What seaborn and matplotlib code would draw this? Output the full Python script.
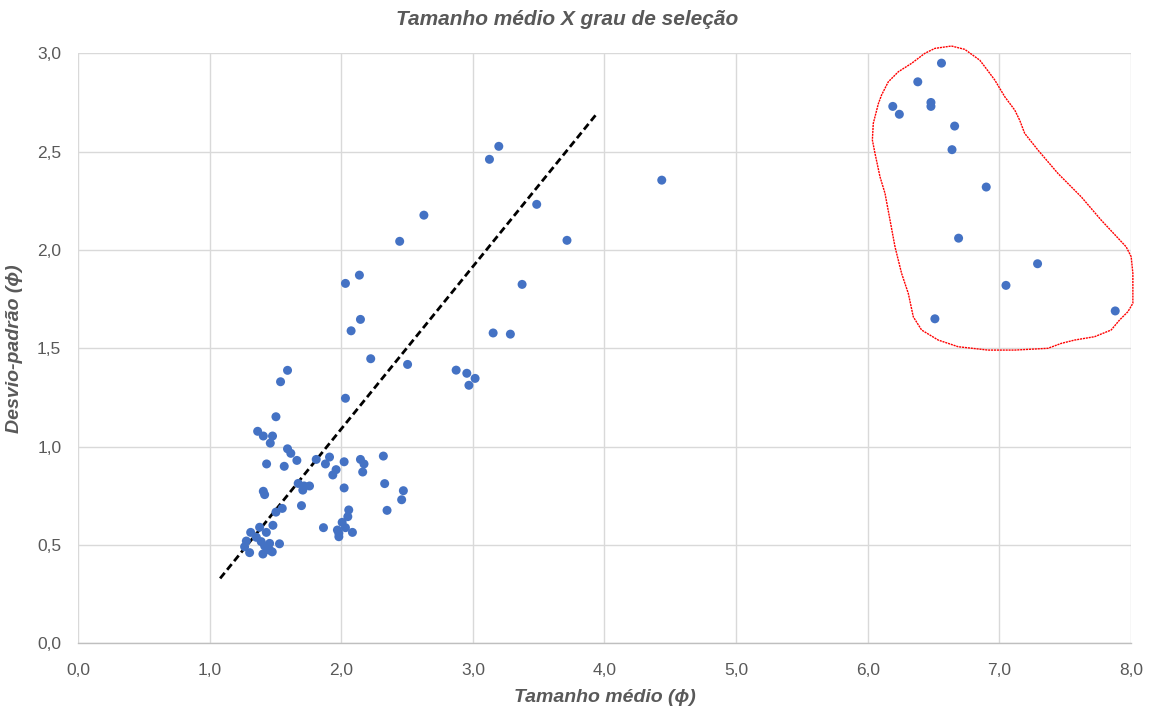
import matplotlib
matplotlib.use("Agg")
import matplotlib.pyplot as plt
from matplotlib.ticker import FuncFormatter, MultipleLocator
import pandas as pd
import seaborn as sns

# Mean grain size (phi) and sorting / standard deviation (phi) per sample
tamanho_medio = [
    # coarse/medium group
    3.197, 3.126, 4.435, 3.485, 3.715, 3.374, 3.154, 3.285, 2.873, 2.954, 3.017, 2.970,
    2.628, 2.444, 2.138, 2.032, 2.146, 2.075, 2.224, 2.504, 2.032,
    1.592, 1.539, 1.504, 1.365, 1.408, 1.478, 1.461, 1.592, 1.617, 1.663, 1.433, 1.567,
    1.810, 1.911, 1.880, 2.022, 2.146, 2.173, 2.320, 1.961, 1.936, 2.163,
    1.673, 1.718, 1.759, 1.708, 2.022, 2.330, 1.408, 1.418, 2.472, 2.459,
    1.698, 1.552, 1.504, 2.348, 2.057, 2.050, 2.007, 2.032, 1.865, 1.971, 1.982, 2.085, 1.982,
    1.481, 1.380, 1.312, 1.431, 1.279, 1.355, 1.392, 1.456, 1.531, 1.266, 1.304, 1.405,
    1.456, 1.476, 1.443, 1.418,
    # fine group
    6.56, 6.38, 6.19, 6.24, 6.48, 6.48, 6.66, 6.64, 6.90, 6.69, 7.29, 7.05, 7.88, 6.51,
]
desvio_padrao = [
    2.527, 2.461, 2.355, 2.232, 2.049, 1.825, 1.578, 1.572, 1.389, 1.373, 1.347, 1.312,
    2.177, 2.044, 1.872, 1.830, 1.647, 1.589, 1.447, 1.418, 1.246,
    1.388, 1.330, 1.152, 1.078, 1.054, 1.054, 1.018, 0.989, 0.966, 0.930, 0.912, 0.900,
    0.935, 0.947, 0.912, 0.923, 0.935, 0.912, 0.952, 0.883, 0.856, 0.871,
    0.813, 0.800, 0.800, 0.779, 0.790, 0.812, 0.773, 0.756, 0.776, 0.730,
    0.700, 0.686, 0.667, 0.676, 0.678, 0.644, 0.615, 0.588, 0.588, 0.576, 0.542, 0.564, 0.559,
    0.600, 0.590, 0.564, 0.564, 0.520, 0.539, 0.517, 0.508, 0.506, 0.491, 0.461, 0.454,
    0.474, 0.465, 0.483, 0.495,
    2.95, 2.855, 2.73, 2.69, 2.75, 2.73, 2.63, 2.51, 2.32, 2.06, 1.93, 1.82, 1.69, 1.65,
]

# Dashed trend line endpoints
tendencia_x = [1.08, 3.95]
tendencia_y = [0.33, 2.70]

# Hand-drawn outline around the fine-grained group
contorno_x = [6.636, 6.737, 6.851, 6.889, 6.965, 7.041, 7.117, 7.154, 7.192, 7.293, 7.445,
              7.622, 7.773, 7.963, 8.001, 8.014, 8.014, 7.976, 7.913, 7.849, 7.723, 7.572,
              7.470, 7.369, 7.117, 6.914, 6.687, 6.535, 6.409, 6.346, 6.308, 6.257, 6.207,
              6.169, 6.131, 6.093, 6.055, 6.035, 6.042, 6.081, 6.105, 6.156, 6.232, 6.333,
              6.434, 6.510, 6.636]
contorno_y = [3.037, 3.020, 2.965, 2.932, 2.864, 2.779, 2.711, 2.660, 2.593, 2.508, 2.389,
              2.270, 2.152, 2.016, 1.966, 1.881, 1.729, 1.686, 1.644, 1.593, 1.559, 1.542,
              1.525, 1.500, 1.491, 1.491, 1.508, 1.542, 1.593, 1.660, 1.779, 1.881, 2.016,
              2.152, 2.288, 2.372, 2.491, 2.559, 2.644, 2.745, 2.788, 2.855, 2.906, 2.949,
              3.000, 3.025, 3.037]

titulo = "Tamanho médio X grau de seleção"
rotulo_x = "Tamanho médio (ϕ)"
rotulo_y = "Desvio-padrão (ϕ)"

sns.set_style("white")
plt.rcParams["font.family"] = ["Liberation Sans Narrow", "Liberation Sans", "DejaVu Sans"]

df = pd.DataFrame({"tamanho": tamanho_medio, "desvio": desvio_padrao})

fig = plt.figure(figsize=(11.5, 7.06), dpi=100)
ax = fig.add_axes([0.0678, 0.0888, 0.9157, 0.8357])

grey_text = "#595959"
ax.set_xlim(0, 8)
ax.set_ylim(0, 3)
ax.xaxis.set_major_locator(MultipleLocator(1))
ax.yaxis.set_major_locator(MultipleLocator(0.5))
fmt = FuncFormatter(lambda v, _: f"{v:.1f}".replace(".", ","))
ax.xaxis.set_major_formatter(fmt)
ax.yaxis.set_major_formatter(fmt)
ax.grid(True, color="#D9D9D9", linewidth=1.0)
ax.set_axisbelow(True)
for side in ["left", "right", "top"]:
    ax.spines[side].set_visible(False)
ax.spines["bottom"].set_color("#BFBFBF")
ax.spines["bottom"].set_linewidth(1.0)
ax.tick_params(axis="both", length=0, labelsize=12.5, colors=grey_text)
ax.tick_params(axis="x", pad=14)
ax.tick_params(axis="y", pad=12)

ax.plot(tendencia_x, tendencia_y, linestyle=(0, (2.6, 1.4)), color="black", linewidth=2.0, zorder=2)

sns.scatterplot(data=df, x="tamanho", y="desvio", ax=ax, color="#4472C4", s=42,
                edgecolor="none", zorder=3, clip_on=False)

ax.plot(contorno_x, contorno_y, color="#FF0000", linewidth=1.0, linestyle=(0, (1.5, 0.6)),
        clip_on=False, zorder=4, solid_joinstyle="round")

ax.set_xlabel(rotulo_x, fontsize=14, fontstyle="italic", fontweight="bold", color=grey_text, labelpad=8)
ax.set_ylabel(rotulo_y, fontsize=14, fontstyle="italic", fontweight="bold", color=grey_text, labelpad=10)
fig.text(0.493, 0.972, titulo, ha="center", va="center", fontsize=15, fontstyle="italic",
         fontweight="bold", color=grey_text)

fig.savefig("out.png", dpi=100, facecolor="white")
